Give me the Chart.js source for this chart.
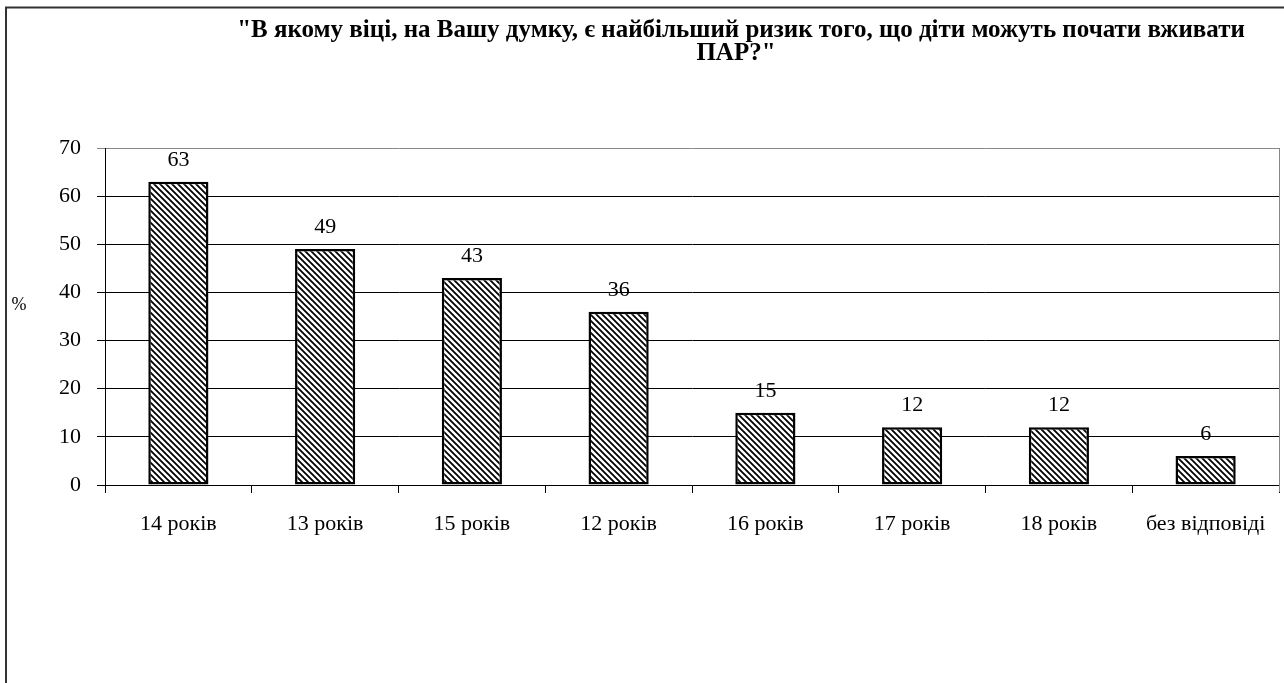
<!DOCTYPE html>
<html>
<head>
<meta charset="utf-8">
<script src="https://cdn.jsdelivr.net/npm/chart.js@4.4.0/dist/chart.umd.min.js"></script>
<style>
  html, body { margin: 0; padding: 0; background: #fff; }
  #wrap { width: 1284px; height: 683px; }
</style>
</head>
<body>
<div id="wrap"><canvas id="barChart" width="1284" height="683"></canvas></div>
<script>
var titleLines = ['"В якому віці, на Вашу думку, є найбільший ризик того, що діти можуть почати вживати', 'ПАР?"'];
var categories = ['14 років', '13 років', '15 років', '12 років', '16 років', '17 років', '18 років', 'без відповіді'];
var values = [63, 49, 43, 36, 15, 12, 12, 6];
var yMax = 70;
var yStep = 10;

var serif = '"Liberation Serif", "Times New Roman", serif';

// diagonal hatch like the old office fill
function makeHatch() {
    var c = document.createElement('canvas');
    c.width = 6; c.height = 6;
    var g = c.getContext('2d');
    g.fillStyle = '#fff';
    g.fillRect(0, 0, 6, 6);
    g.strokeStyle = '#000';
    g.lineWidth = 1.8;
    g.beginPath();
    g.moveTo(-1, -1); g.lineTo(7, 7);
    g.moveTo(-4, 2); g.lineTo(4, 10);
    g.moveTo(2, -4); g.lineTo(10, 4);
    g.stroke();
    return g.createPattern(c, 'repeat');
}

var ctx = document.getElementById('barChart').getContext('2d');

var decor = {
    id: 'decor',
    beforeDraw: function (chart) {
        var g = chart.ctx;
        g.save();
        g.fillStyle = '#fff';
        g.fillRect(0, 0, chart.width, chart.height);
        g.restore();
    },
    afterDatasetsDraw: function (chart) {
        var g = chart.ctx;
        var area = chart.chartArea;
        g.save();
        // plot area right border
        g.strokeStyle = '#888';
        g.lineWidth = 1;
        g.beginPath();
        g.moveTo(area.right + 0.5, area.top);
        g.lineTo(area.right + 0.5, area.bottom + 7);
        g.stroke();
        // value labels
        g.fillStyle = '#000';
        g.font = '22px ' + serif;
        g.textAlign = 'center';
        g.textBaseline = 'alphabetic';
        var meta = chart.getDatasetMeta(0);
        meta.data.forEach(function (bar, i) {
            g.fillText(String(values[i]), bar.x, bar.y - 16);
        });
        // % label
        g.textBaseline = 'middle';
        g.font = '18px ' + serif;
        g.fillText('%', 19, 305);
        // title
        g.font = 'bold 25px ' + serif;
        g.textBaseline = 'alphabetic';
        g.fillText(titleLines[0], 741, 37);
        g.fillText(titleLines[1], 736, 60);
        // outer frame
        g.strokeStyle = '#333';
        g.lineWidth = 2;
        g.beginPath();
        g.moveTo(6, chart.height + 2);
        g.lineTo(6, 7.5);
        g.lineTo(chart.width + 2, 7.5);
        g.stroke();
        g.restore();
    }
};

var barChart = new Chart(ctx, {
    type: 'bar',
    data: {
        labels: categories,
        datasets: [
            {
                data: values,
                backgroundColor: makeHatch(),
                borderColor: '#000',
                borderWidth: 2.5,
                borderSkipped: false,
                categoryPercentage: 1,
                barPercentage: 0.41
            }
        ]
    },
    options: {
        responsive: false,
        animation: false,
        layout: {
            padding: { top: 148, right: 5, bottom: 138, left: 0 }
        },
        plugins: {
            legend: { display: false },
            tooltip: { enabled: false },
            title: { display: false }
        },
        scales: {
            x: {
                afterFit: function (s) { s.height = 60; },
                grid: {
                    offset: true,
                    drawOnChartArea: false,
                    tickLength: 8,
                    color: '#000'
                },
                border: { display: true, color: '#000', width: 1 },
                ticks: {
                    color: '#000',
                    padding: 18,
                    maxRotation: 0,
                    font: { family: serif, size: 22 }
                }
            },
            y: {
                min: 0,
                max: yMax,
                afterFit: function (s) { s.width = 105; },
                grid: {
                    tickLength: 8,
                    color: function (c) { return c.tick && c.tick.value === yMax ? '#888' : '#000'; }
                },
                border: { display: true, color: '#000', width: 1 },
                ticks: {
                    stepSize: yStep,
                    color: '#000',
                    padding: 16,
                    font: { family: serif, size: 22 }
                }
            }
        }
    },
    plugins: [decor]
});
</script>
</body>
</html>
